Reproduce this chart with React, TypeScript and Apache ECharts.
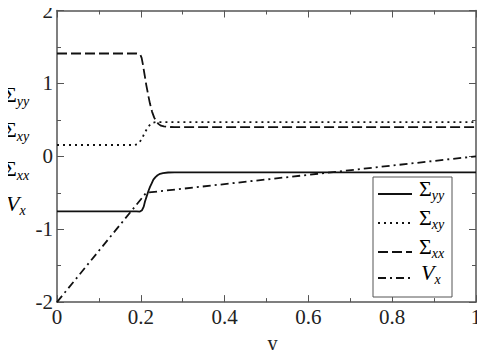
import React, { useEffect, useRef } from "react";
import * as echarts from "echarts";

const xTicks = [0, 0.2, 0.4, 0.6, 0.8, 1];
const yTicks = [-2, -1, 0, 1, 2];

const sigmaYY: [number, number][] = [
  [0, -0.755], [0.19, -0.755], [0.198, -0.758], [0.203, -0.74], [0.207, -0.69], [0.21, -0.62],
  [0.214, -0.55], [0.218, -0.48], [0.222, -0.42], [0.226, -0.37], [0.23, -0.32], [0.235, -0.285],
  [0.24, -0.26], [0.246, -0.24], [0.253, -0.23], [0.265, -0.222], [0.28, -0.22], [1, -0.22],
];
const sigmaXY: [number, number][] = [
  [0, 0.155], [0.185, 0.155], [0.191, 0.165], [0.196, 0.185], [0.2, 0.22], [0.205, 0.27],
  [0.21, 0.33], [0.215, 0.38], [0.22, 0.42], [0.225, 0.45], [0.23, 0.463], [0.237, 0.47], [1, 0.47],
];
const sigmaXX: [number, number][] = [
  [0, 1.41], [0.19, 1.41], [0.195, 1.405], [0.199, 1.39], [0.202, 1.35], [0.205, 1.26],
  [0.209, 1.12], [0.213, 0.98], [0.218, 0.83], [0.222, 0.72], [0.227, 0.61], [0.232, 0.53],
  [0.237, 0.48], [0.242, 0.445], [0.248, 0.42], [0.255, 0.41], [0.27, 0.402], [0.28, 0.4], [1, 0.4],
];
const vX: [number, number][] = [
  [0, -2], [0.213, -0.5], [1, 0],
];

const seriesNames = ["Σyy", "Σxy", "Σxx", "Vx"];
const richLabels: Record<string, string> = {
  "Σyy": "{s|Σ}{sub|yy}",
  "Σxy": "{s|Σ}{sub|xy}",
  "Σxx": "{s|Σ}{sub|xx}",
  "Vx": "{v|V}{sub|x}",
};
const dashTypes: any[] = ["solid", [2, 4], [10, 4], [8, 4, 2, 4]];

const FONT = "Liberation Serif, Times New Roman, serif";
const INK = "#111";
const AXIS = "#555";
const TXT = "#222";

const rich = {
  s: { fontSize: 22, fontFamily: FONT, color: TXT, verticalAlign: "middle" },
  v: { fontSize: 22, fontFamily: FONT, fontStyle: "italic", color: TXT, verticalAlign: "middle" },
  sub: { fontSize: 14, lineHeight: 14, fontFamily: FONT, fontStyle: "italic", color: TXT, padding: [14, 0, 0, 0], verticalAlign: "middle" },
};

export default function App() {
  const ref = useRef<HTMLDivElement>(null);
  useEffect(() => {
    if (!ref.current) return;
    const chart = echarts.init(ref.current, null, { renderer: "svg" });
    const axisCommon = {
      axisLine: { show: true, onZero: false, lineStyle: { color: AXIS, width: 1.5 } },
      axisTick: { show: true, inside: true, length: 7, lineStyle: { color: AXIS, width: 1 } },
      minorTick: { show: true, splitNumber: 2, length: 4, lineStyle: { color: AXIS, width: 1 } },
      splitLine: { show: false },
      minorSplitLine: { show: false },
    };
    const lineSeries = (name: string, data: [number, number][], type: any) => ({
      name,
      type: "line",
      data,
      showSymbol: false,
      symbol: "none",
      smooth: false,
      lineStyle: { color: INK, width: 1.8, type },
      itemStyle: { color: INK },
      z: 3,
    });

    // legend box (drawn with graphic for exact spacing)
    const legX = 373, legY = 177, legW = 79, legH = 120;
    const rowY = [194, 223, 252, 278];
    const legendEls: any[] = [
      {
        type: "rect", shape: { x: legX, y: legY, width: legW, height: legH },
        style: { fill: "#fff", stroke: AXIS, lineWidth: 1 }, z: 10,
      },
    ];
    seriesNames.forEach((n, i) => {
      const dt = dashTypes[i];
      legendEls.push({
        type: "line", shape: { x1: legX + 5, y1: rowY[i], x2: legX + 39, y2: rowY[i] },
        style: { stroke: INK, lineWidth: 1.8, lineDash: dt === "solid" ? null : dt }, z: 11,
      });
      legendEls.push({
        type: "text", x: legX + (n === "Vx" ? 48 : 46), y: rowY[i] - 17,
        style: { text: richLabels[n], rich, fontFamily: FONT }, z: 11,
      });
    });

    chart.setOption({
      animation: false,
      backgroundColor: "#fff",
      textStyle: { fontFamily: FONT },
      grid: { left: 57, right: 9, top: 9, bottom: 55, containLabel: false },
      xAxis: [
        {
          type: "value", min: xTicks[0], max: xTicks[xTicks.length - 1], interval: 0.2,
          ...axisCommon,
          axisLabel: { fontSize: 21, fontFamily: FONT, color: TXT, margin: 4 },
          name: "y", nameLocation: "middle", nameGap: 28,
          nameTextStyle: { fontSize: 21, fontFamily: FONT, color: TXT, padding: [0, 0, 0, 12] },
        },
        {
          type: "value", position: "top", min: xTicks[0], max: xTicks[xTicks.length - 1], interval: 0.2,
          ...axisCommon, axisLabel: { show: false },
        },
      ],
      yAxis: [
        {
          type: "value", min: yTicks[0], max: yTicks[yTicks.length - 1], interval: 1,
          ...axisCommon,
          axisLabel: { fontSize: 21, fontFamily: FONT, color: TXT, margin: 4 },
        },
        {
          type: "value", position: "right", min: yTicks[0], max: yTicks[yTicks.length - 1], interval: 1,
          ...axisCommon, axisLabel: { show: false },
        },
      ],
      legend: { show: false, data: seriesNames },
      graphic: [
        { type: "text", x: 4, y: 83, style: { text: richLabels["Σyy"], rich, fontFamily: FONT } },
        { type: "text", x: 4, y: 118, style: { text: richLabels["Σxy"], rich, fontFamily: FONT } },
        { type: "text", x: 4, y: 157, style: { text: richLabels["Σxx"], rich, fontFamily: FONT } },
        { type: "text", x: 6, y: 192, style: { text: richLabels["Vx"], rich, fontFamily: FONT } },
        ...legendEls,
      ],
      series: seriesNames.map((n, i) =>
        lineSeries(n, [sigmaYY, sigmaXY, sigmaXX, vX][i], dashTypes[i])
      ),
    });
    return () => chart.dispose();
  }, []);
  return <div ref={ref} style={{ width: 485, height: 358, margin: -8 }} />;
}
